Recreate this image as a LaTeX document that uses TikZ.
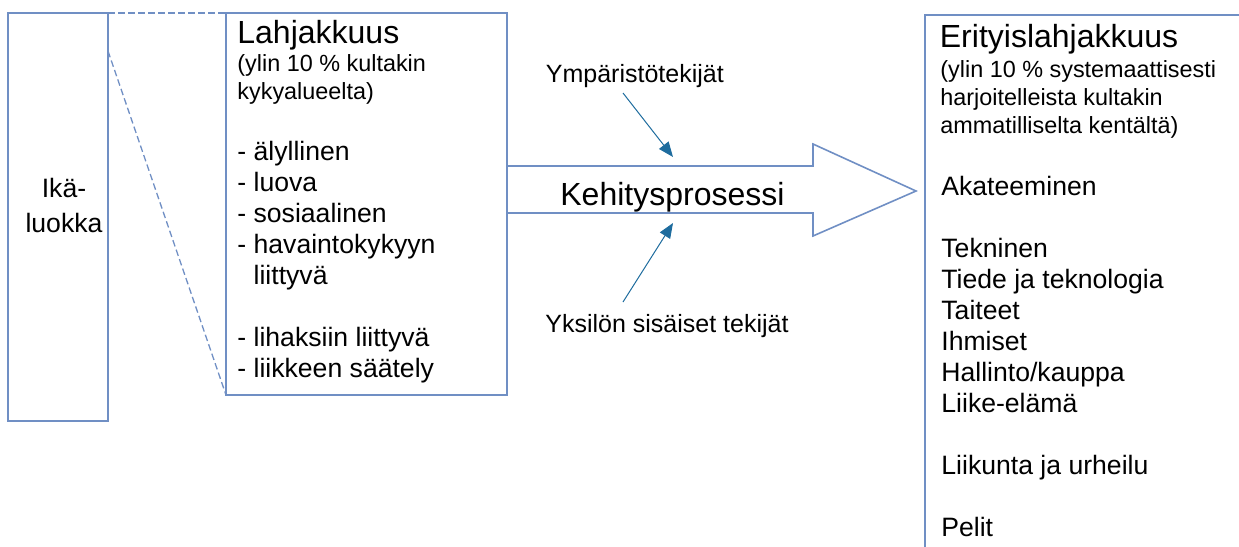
\documentclass[tikz,border=0pt]{standalone}
\usepackage{fontspec}
\setmainfont{Liberation Sans}
\usepackage{xcolor}
\usetikzlibrary{arrows.meta}

\definecolor{kehys}{RGB}{112,143,196}
\definecolor{nuoli}{RGB}{30,108,158}

\begin{document}
\begin{tikzpicture}[x=0.5pt, y=-0.5pt,
    laatikko/.style={draw=kehys, line width=0.8pt, inner sep=0pt, outer sep=0pt},
    katko/.style={draw=kehys, line width=0.65pt, dash pattern=on 3.3pt off 1.7pt},
    pil/.style={draw=nuoli, line width=0.5pt, -{Triangle[length=7.5pt, width=6pt]}, nuoli},
    otsikko/.style={font=\fontsize{16}{19}\selectfont, anchor=base west, inner sep=0pt},
    ala/.style={font=\fontsize{11.7}{14}\selectfont, anchor=base west, inner sep=0pt},
    kohta/.style={font=\fontsize{13.3}{15.5}\selectfont, anchor=base west, inner sep=0pt},
    tekija/.style={font=\fontsize{12.5}{15}\selectfont, anchor=base west, inner sep=0pt}]
  \useasboundingbox (0,0) rectangle (1239,547);

  % boxes
  \node[laatikko, minimum width=50pt, minimum height=204pt] (ika) at (58,217) {};
  \node[laatikko, minimum width=140.5pt, minimum height=191pt] (lahja) at (366.5,204) {};
  \coordinate (erit) at (925,15);
  \draw[laatikko] (1240,15) -- (erit) -- (925,548);

  % age group
  \node[kohta, anchor=base] (ika1) at (64,197) {Ikä-};
  \node[kohta, anchor=base] (ika2) at (64,232) {luokka};
  \coordinate (ikareuna) at (108,51);
  \draw[katko] (ika.north east) -- (lahja.north west);
  \draw[katko] (ikareuna) -- (lahja.south west);

  % gifts
  \node[otsikko] (lahjat) at (237,43) {Lahjakkuus};
  \node[ala] (lahjaa1) at (237,71) {(ylin 10 \% kultakin};
  \node[ala] (lahjaa2) at (237,99) {kykyalueelta)};
  \foreach \y/\t in {160/{- älyllinen}, 191/{- luova}, 222/{- sosiaalinen},
                     253/{- havaintokykyyn}, 284/{\hphantom{- }liittyvä},
                     346/{- lihaksiin liittyvä}, 377/{- liikkeen säätely}}
    \node[kohta] (lk\y) at (237,\y) {\t};

  % process arrow
  \coordinate (kp1) at (lahja.east |- 0,166);
  \coordinate (kp2) at (lahja.east |- 0,213);
  \coordinate (kpkarki) at (916,191);
  \draw[laatikko] (kp1) -- (813,166) -- (813,144) -- (kpkarki)
    -- (813,236) -- (813,213) -- (kp2);
  \node[otsikko] (kehitys) at (560,205) {Kehitysprosessi};

  % factors
  \node[tekija] (ymp) at (545.5,82) {Ympäristötekijät};
  \node[tekija] (yks) at (545,332) {Yksilön sisäiset tekijät};
  \coordinate (ympa) at (623,93);
  \coordinate (ympb) at (673,157);
  \coordinate (yksa) at (623,302);
  \coordinate (yksb) at (673,223);
  \draw[pil] (ympa) -- (ympb);
  \draw[pil] (yksa) -- (yksb);

  % talents
  \node[otsikko] (erott) at (939.5,47) {Erityislahjakkuus};
  \node[ala] (erita1) at (940,77) {(ylin 10 \% systemaattisesti};
  \node[ala] (erita2) at (940,105) {harjoitelleista kultakin};
  \node[ala] (erita3) at (940,133) {ammatilliselta kentältä)};
  \foreach \y/\t in {195/{Akateeminen}, 257/{Tekninen}, 288/{Tiede ja teknologia},
                     319/{Taiteet}, 350/{Ihmiset}, 381/{Hallinto/kauppa},
                     412/{Liike-elämä}, 474/{Liikunta ja urheilu}, 536/{Pelit}}
    \node[kohta] (ek\y) at (941,\y) {\t};
\end{tikzpicture}
\end{document}
